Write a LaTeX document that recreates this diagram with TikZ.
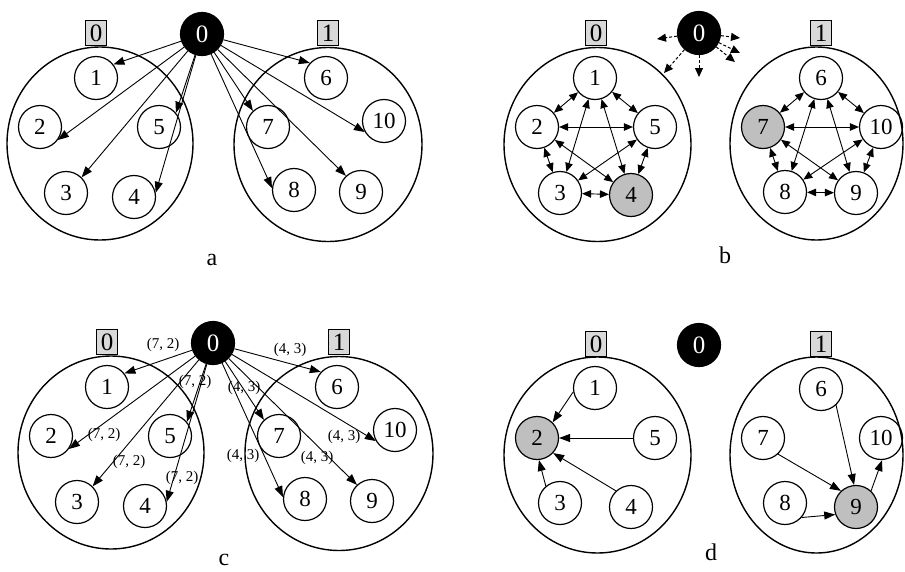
\documentclass[tikz,border=0pt]{standalone}
\usepackage{fontspec}
\setmainfont{Liberation Serif}
\usetikzlibrary{arrows.meta}
\tikzset{
 vnode/.style={circle,draw,line width=1.2pt,minimum size=43pt,inner sep=0pt,font=\fontsize{23}{23}\selectfont},
 src/.style={vnode,fill=black,text=white,font=\fontsize{25}{25}\selectfont},
 hot/.style={vnode,fill=black!25},
 tag/.style={draw,line width=0.9pt,fill=black!15,minimum width=21pt,minimum height=25pt,inner sep=0pt,font=\fontsize{25}{25}\selectfont},
 group/.style={draw,line width=1.4pt},
 arr/.style={-{Triangle[length=11pt,width=8pt]},line width=0.9pt},
 darr/.style={{Triangle[length=9pt,width=7.5pt]}-{Triangle[length=9pt,width=7.5pt]},line width=0.9pt},
 dasharr/.style={-{Triangle[length=9pt,width=8pt]},line width=1pt,dash pattern=on 3pt off 2pt},
 wt/.style={font=\fontsize{15}{15}\selectfont,inner sep=0pt},
 captext/.style={font=\fontsize{24}{24}\selectfont,anchor=base,inner sep=0pt},
}
\newcommand\panelAbody{%
 \draw[group] (100,143.5) ellipse [x radius=93pt,y radius=96.5pt];
 \draw[group] (328,144.5) ellipse [x radius=94pt,y radius=97pt];
 \node[tag] (t0) at (96,33) {0};
 \node[tag] (t1) at (328,33) {1};
 \node[src] (s) at (202,34) {0};
 \node[vnode] (n1) at (96,78) {1};
 \node[vnode] (n2) at (40,127) {2};
 \node[vnode] (n5) at (159,127) {5};
 \node[vnode] (n3) at (66,193) {3};
 \node[vnode] (n4) at (134,197) {4};
 \node[vnode] (n6) at (326,78) {6};
 \node[vnode] (n10) at (384,121) {10};
 \node[vnode] (n7) at (268,127) {7};
 \node[vnode] (n8) at (294,190) {8};
 \node[vnode] (n9) at (361,192) {9};
 \draw[arr] (s) -- (n1.38);
 \draw[arr] (s) -- (n2.-36);
 \draw[arr] (s) -- (n3.45);
 \draw[arr] (s) -- (n4.11);
 \draw[arr] (s) -- (n5.40);
 \draw[arr] (s) -- (n6.137);
 \draw[arr] (s) -- (n7.133);
 \draw[arr] (s) -- (n8.175);
 \draw[arr] (s) -- (n9.133);
 \draw[arr] (s) -- (n10.210);
}
\begin{document}
\begin{tikzpicture}[x=1pt,y=-1pt]
\useasboundingbox (0,0) rectangle (905,571);
% ---------- panel a ----------
\begin{scope}[name prefix=a]
\panelAbody
\end{scope}
\node[captext] (capa) at (212,265) {a};
% ---------- panel c ----------
\begin{scope}[shift={(11,309)},name prefix=c]
\panelAbody
\end{scope}
\node[wt] (w1) at (163,345) {(7, 2)};
\node[wt] (w2) at (195,382) {(7, 2)};
\node[wt] (w3) at (104,435) {(7, 2)};
\node[wt] (w4) at (129,462) {(7, 2)};
\node[wt] (w5) at (182,478) {(7, 2)};
\node[wt] (w6) at (290,350) {(4, 3)};
\node[wt] (w7) at (244,388) {(4, 3)};
\node[wt] (w8) at (243,456) {(4, 3)};
\node[wt] (w9) at (317,458) {(4, 3)};
\node[wt] (w10) at (344,437) {(4, 3)};
\node[captext] (capc) at (224,565) {c};
% ---------- panel b ----------
\draw[group] (597.5,144.5) ellipse [x radius=93.5pt,y radius=97pt];
\draw[group] (816.5,143.5) ellipse [x radius=86.5pt,y radius=96.5pt];
\node[tag] (bt0) at (596,33) {0};
\node[tag] (bt1) at (821,33) {1};
\node[src] (bs) at (699,33) {0};
\node[vnode] (b1) at (595,78) {1};
\node[vnode] (b2) at (537,127) {2};
\node[vnode] (b5) at (655,127) {5};
\node[vnode] (b3) at (560,193) {3};
\node[hot] (b4) at (631,195) {4};
\node[vnode] (b6) at (821,78) {6};
\node[hot] (b7) at (763,127) {7};
\node[vnode] (b10) at (881,127) {10};
\node[vnode] (b8) at (785,192) {8};
\node[vnode] (b9) at (856,193) {9};
\foreach \u/\v in {1/2,1/5,2/5,2/3,5/4,3/4,1/3,1/4,2/4,5/3,6/7,6/10,7/10,7/8,10/9,8/9,6/8,6/9,7/9,10/8}
  \draw[darr] (b\u) -- (b\v);
\coordinate (e1) at (657,39);
\coordinate (e2) at (664,73);
\coordinate (e3) at (699,77);
\coordinate (e4) at (740,38);
\coordinate (e5) at (740,53);
\coordinate (e6) at (735,62);
\foreach \k in {1,...,6}
  \draw[dasharr] (bs) -- (e\k);
\node[captext] (capb) at (725,263) {b};
% ---------- panel d ----------
\draw[group] (597.5,455) ellipse [x radius=93.5pt,y radius=98pt];
\draw[group] (816.5,455) ellipse [x radius=86.5pt,y radius=98pt];
\node[tag] (dt0) at (596,344) {0};
\node[tag] (dt1) at (821,344) {1};
\node[src] (ds) at (699,345) {0};
\node[vnode] (d1) at (595,388) {1};
\node[hot] (d2) at (537,438) {2};
\node[vnode] (d5) at (655,438) {5};
\node[vnode] (d3) at (560,503) {3};
\node[vnode] (d4) at (631,507) {4};
\node[vnode] (d6) at (821,389) {6};
\node[vnode] (d7) at (763,438) {7};
\node[vnode] (d10) at (881,438) {10};
\node[vnode] (d8) at (785,503) {8};
\node[hot] (d9) at (856,507) {9};
\draw[arr] (d1.190) -- (d2.45);
\draw[arr] (d5.west) -- (d2.east);
\draw[arr] (d3.130) -- (d2.-85);
\draw[arr] (d4.133) -- (d2.-43);
\draw[arr] (d6.-47) -- (d9.95);
\draw[arr] (d7.-47) -- (d9.133);
\draw[arr] (d8.-41) -- (d9.200);
\draw[arr] (d9.47) -- (d10.-87);
\node[captext] (capd) at (711,560) {d};
\end{tikzpicture}
\end{document}
